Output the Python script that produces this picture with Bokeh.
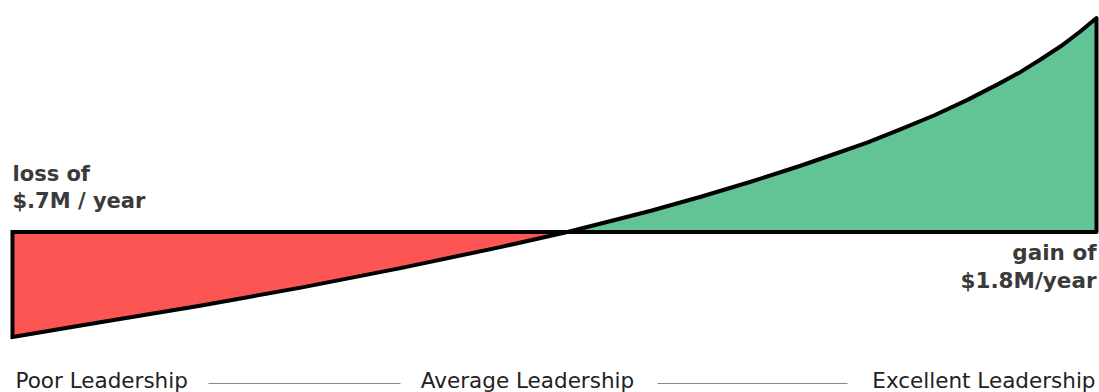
from bokeh.plotting import figure
from bokeh.models import Range1d, Label
from bokeh.embed import file_html
from bokeh.resources import INLINE

# Leadership quality (0 = poor, 100 = excellent) vs. relative yearly impact
quality = [0, 8.1, 17.3, 26.6, 35.8, 45.0, 51.2, 54.2, 58.9, 63.5, 68.1, 72.7, 75.7, 78.9,
           81.9, 85.0, 88.1, 91.1, 93.0, 94.8, 96.7, 98.5, 100]
impact = [-1.05, -0.903, -0.738, -0.556, -0.361, -0.151, 0.0, 0.083, 0.2125, 0.3525, 0.5025, 0.6625, 0.775, 0.897,
          1.026, 1.165, 1.321, 1.489, 1.601, 1.723, 1.857, 2.005, 2.14]

loss_label = ["loss of", "$.7M / year"]
gain_label = ["gain of", "$1.8M/year"]
categories = ["Poor Leadership", "Average Leadership", "Excellent Leadership"]

W, H = 1099, 392
p = figure(width=W, height=H, output_backend="svg", toolbar_location=None,
           x_range=Range1d(-1.107, 100.277), y_range=Range1d(-1.605, 2.315),
           min_border=0, min_border_left=0, min_border_right=0,
           min_border_top=0, min_border_bottom=0)
p.axis.visible = False
p.grid.visible = False
p.outline_line_color = None
p.background_fill_color = "white"
p.border_fill_color = "white"

neg = [(x, y) for x, y in zip(quality, impact) if y <= 0]
pos = [(x, y) for x, y in zip(quality, impact) if y >= 0]

red_x = [x for x, _ in neg] + [neg[-1][0], neg[0][0]]
red_y = [y for _, y in neg] + [0, 0]
green_x = [x for x, _ in pos] + [pos[-1][0]]
green_y = [y for _, y in pos] + [0]

p.patch(red_x, red_y, fill_color="#FD5454", line_color="black", line_width=4, line_join="miter")
p.patch(green_x, green_y, fill_color="#62C394", line_color="black", line_width=4, line_join="round")

bold_font = "DejaVu Sans"
dark = "#3a3a3a"
OFF = 8  # renderer baseline offset correction
for i, t in enumerate(loss_label):
    p.add_layout(Label(x=12, y=H - (181 + i * 27) + OFF, x_units="screen", y_units="screen", text=t,
                       text_font=bold_font, text_font_style="bold", text_font_size="21px",
                       text_color=dark, text_align="left", text_baseline="alphabetic"))
for i, t in enumerate(gain_label):
    p.add_layout(Label(x=1096, y=H - (260 + i * 28) + OFF, x_units="screen", y_units="screen", text=t,
                       text_font=bold_font, text_font_style="bold", text_font_size="21.5px",
                       text_color=dark, text_align="right", text_baseline="alphabetic"))

cat_x = [15, 527, 1095]
cat_align = ["left", "center", "right"]
for cx, al, t in zip(cat_x, cat_align, categories):
    p.add_layout(Label(x=cx, y=H - 388 + OFF, x_units="screen", y_units="screen", text=t,
                       text_font="DejaVu Sans", text_font_size="21.5px", text_color="#222222",
                       text_align=al, text_baseline="alphabetic"))

# connector rules between category labels (data x from screen px)
def dx(px):
    return (px - 12) / 10.84
sep_y = (231.5 - 383) / 100.0
p.segment(x0=[dx(208), dx(657)], y0=[sep_y, sep_y], x1=[dx(400), dx(847)], y1=[sep_y, sep_y],
          line_color="#8a8a8a", line_width=1)

open("out.html", "w").write(file_html(p, INLINE))
